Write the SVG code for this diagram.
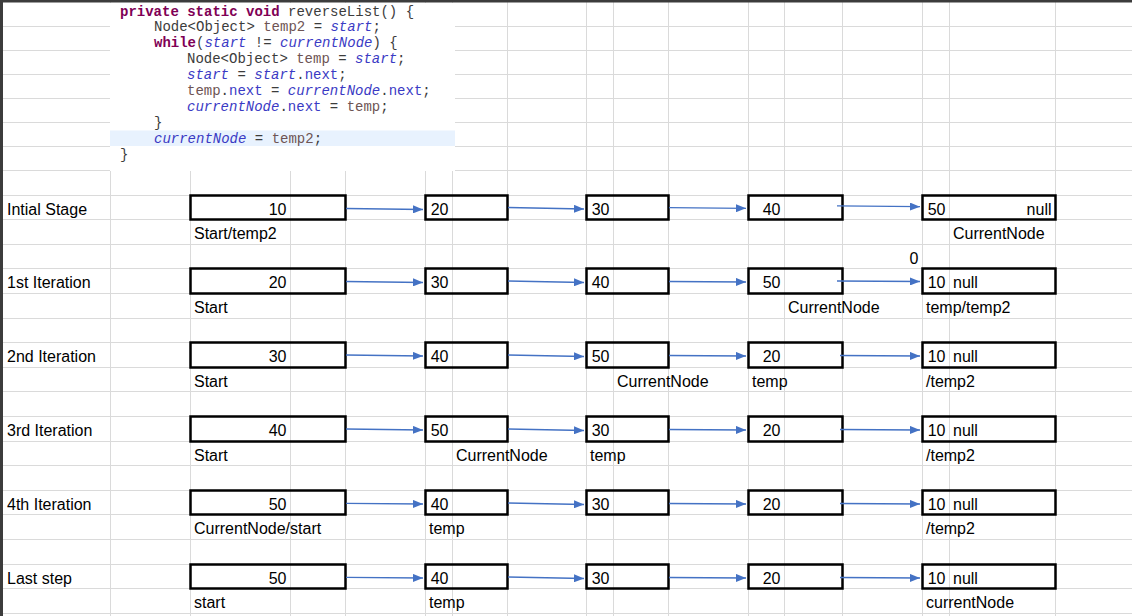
<svg xmlns="http://www.w3.org/2000/svg" width="1132" height="616" viewBox="0 0 1132 616">
<style>
.grid{stroke:#dadada;stroke-width:1;fill:none}
.code{font-family:"Liberation Mono","DejaVu Sans Mono",monospace;font-size:14px;fill:#3c3c3c;white-space:pre}
.kw{fill:#7f0055;font-weight:bold}
.fld{fill:#3a3ac4;font-style:italic}
.nf{fill:#3a3ac4}
.loc{fill:#6e5454}
.t{font-family:"Liberation Sans","Arial",sans-serif;font-size:16px;fill:#000}
.n{font-family:"Liberation Sans","Arial",sans-serif;font-size:16px;fill:#000;text-anchor:end}
.box{fill:none;stroke:#000;stroke-width:2.5}
.arr{stroke:#4472c4;stroke-width:1.3;fill:none;marker-end:url(#ah)}
</style>
<defs>
<marker id="ah" viewBox="0 0 10 8" markerWidth="10" markerHeight="8" refX="10" refY="4" orient="auto" markerUnits="userSpaceOnUse">
<path d="M0,0 L10,4 L0,8 z" fill="#4472c4"/>
</marker>
</defs>
<rect width="1132" height="616" fill="#fff"/>
<g id="grid">
<path class="grid" d="M110.5,2V616 M190.5,2V616 M290.5,2V616 M345.5,2V616 M425.5,2V616 M452.5,2V616 M507.5,2V616 M586.5,2V616 M613.5,2V616 M668.5,2V616 M748.5,2V616 M784.5,2V616 M842.5,2V616 M922.5,2V616 M949.5,2V616 M1055.5,2V616"/>
<path class="grid" d="M3,26.5H1132 M3,50.5H1132 M3,74.5H1132 M3,98.5H1132 M3,122.5H1132 M3,146.5H1132 M3,170.5H1132 M3,195.5H1132 M3,219.5H1132 M3,244.5H1132 M3,268.5H1132 M3,293.5H1132 M3,318.5H1132 M3,342.5H1132 M3,367.5H1132 M3,391.5H1132 M3,416.5H1132 M3,441.5H1132 M3,465.5H1132 M3,490.5H1132 M3,514.5H1132 M3,539.5H1132 M3,564.5H1132 M3,588.5H1132 M3,613.5H1132"/>
<rect x="0" y="0" width="1132" height="2.5" fill="#3c3c3c"/>
<rect x="0" y="0" width="3" height="616" fill="#3c3c3c"/>
</g>
<g id="code">
<rect x="110" y="3" width="345" height="168" fill="#fff"/>
<rect x="110" y="130.5" width="345" height="15.5" fill="#e8f2fe"/>
<text class="code" x="120" y="15.5"><tspan class="kw">private static void</tspan> reverseList() {</text>
<text class="code" x="154" y="31.4">Node&lt;Object&gt; <tspan class="loc">temp2</tspan> = <tspan class="fld">start</tspan>;</text>
<text class="code" x="154" y="47.3"><tspan class="kw">while</tspan>(<tspan class="fld">start</tspan> != <tspan class="fld">currentNode</tspan>) {</text>
<text class="code" x="187" y="63.2">Node&lt;Object&gt; <tspan class="loc">temp</tspan> = <tspan class="fld">start</tspan>;</text>
<text class="code" x="187" y="79.1"><tspan class="fld">start</tspan> = <tspan class="fld">start</tspan>.<tspan class="nf">next</tspan>;</text>
<text class="code" x="187" y="95"><tspan class="loc">temp</tspan>.<tspan class="nf">next</tspan> = <tspan class="fld">currentNode</tspan>.<tspan class="nf">next</tspan>;</text>
<text class="code" x="187" y="110.9"><tspan class="fld">currentNode</tspan>.<tspan class="nf">next</tspan> = <tspan class="loc">temp</tspan>;</text>
<text class="code" x="154" y="126.8">}</text>
<text class="code" x="154" y="142.7"><tspan class="fld">currentNode</tspan> = <tspan class="loc">temp2</tspan>;</text>
<text class="code" x="120" y="158.6">}</text>
</g>
<g id="row0">
<text class="t" x="7" y="214.5">Intial Stage</text>
<rect class="box" x="190.5" y="195.5" width="155" height="24"/>
<rect class="box" x="425.5" y="195.5" width="82" height="24"/>
<rect class="box" x="586.5" y="195.5" width="82" height="24"/>
<rect class="box" x="748.5" y="195.5" width="94" height="24"/>
<rect class="box" x="922.5" y="195.5" width="133" height="24"/>
<text class="n" x="286.5" y="214.5">10</text>
<text class="n" x="448.5" y="214.5">20</text>
<text class="n" x="609.5" y="214.5">30</text>
<text class="n" x="780.5" y="214.5">40</text>
<text class="n" x="945.5" y="214.5">50</text>
<text class="n" x="1051.5" y="214.5">null</text>
<text class="t" x="194" y="238.5">Start/temp2</text>
<text class="t" x="953" y="238.5">CurrentNode</text>
<text class="n" x="918.5" y="263.5">0</text>
</g>
<g id="row1">
<text class="t" x="7" y="287.5">1st Iteration</text>
<rect class="box" x="190.5" y="268.5" width="155" height="25"/>
<rect class="box" x="425.5" y="268.5" width="82" height="25"/>
<rect class="box" x="586.5" y="268.5" width="82" height="25"/>
<rect class="box" x="748.5" y="268.5" width="94" height="25"/>
<rect class="box" x="922.5" y="268.5" width="133" height="25"/>
<text class="n" x="286.5" y="287.5">20</text>
<text class="n" x="448.5" y="287.5">30</text>
<text class="n" x="609.5" y="287.5">40</text>
<text class="n" x="780.5" y="287.5">50</text>
<text class="n" x="945.5" y="287.5">10</text>
<text class="t" x="953" y="287.5">null</text>
<text class="t" x="194" y="312.5">Start</text>
<text class="t" x="788" y="312.5">CurrentNode</text>
<text class="t" x="926" y="312.5">temp/temp2</text>
</g>
<g id="row2">
<text class="t" x="7" y="361.5">2nd Iteration</text>
<rect class="box" x="190.5" y="342.5" width="155" height="25"/>
<rect class="box" x="425.5" y="342.5" width="82" height="25"/>
<rect class="box" x="586.5" y="342.5" width="82" height="25"/>
<rect class="box" x="748.5" y="342.5" width="94" height="25"/>
<rect class="box" x="922.5" y="342.5" width="133" height="25"/>
<text class="n" x="286.5" y="361.5">30</text>
<text class="n" x="448.5" y="361.5">40</text>
<text class="n" x="609.5" y="361.5">50</text>
<text class="n" x="780.5" y="361.5">20</text>
<text class="n" x="945.5" y="361.5">10</text>
<text class="t" x="953" y="361.5">null</text>
<text class="t" x="194" y="386.5">Start</text>
<text class="t" x="617" y="386.5">CurrentNode</text>
<text class="t" x="752" y="386.5">temp</text>
<text class="t" x="926" y="386.5">/temp2</text>
</g>
<g id="row3">
<text class="t" x="7" y="435.5">3rd Iteration</text>
<rect class="box" x="190.5" y="416.5" width="155" height="25"/>
<rect class="box" x="425.5" y="416.5" width="82" height="25"/>
<rect class="box" x="586.5" y="416.5" width="82" height="25"/>
<rect class="box" x="748.5" y="416.5" width="94" height="25"/>
<rect class="box" x="922.5" y="416.5" width="133" height="25"/>
<text class="n" x="286.5" y="435.5">40</text>
<text class="n" x="448.5" y="435.5">50</text>
<text class="n" x="609.5" y="435.5">30</text>
<text class="n" x="780.5" y="435.5">20</text>
<text class="n" x="945.5" y="435.5">10</text>
<text class="t" x="953" y="435.5">null</text>
<text class="t" x="194" y="460.5">Start</text>
<text class="t" x="456" y="460.5">CurrentNode</text>
<text class="t" x="590" y="460.5">temp</text>
<text class="t" x="926" y="460.5">/temp2</text>
</g>
<g id="row4">
<text class="t" x="7" y="509.5">4th Iteration</text>
<rect class="box" x="190.5" y="490.5" width="155" height="24"/>
<rect class="box" x="425.5" y="490.5" width="82" height="24"/>
<rect class="box" x="586.5" y="490.5" width="82" height="24"/>
<rect class="box" x="748.5" y="490.5" width="94" height="24"/>
<rect class="box" x="922.5" y="490.5" width="133" height="24"/>
<text class="n" x="286.5" y="509.5">50</text>
<text class="n" x="448.5" y="509.5">40</text>
<text class="n" x="609.5" y="509.5">30</text>
<text class="n" x="780.5" y="509.5">20</text>
<text class="n" x="945.5" y="509.5">10</text>
<text class="t" x="953" y="509.5">null</text>
<text class="t" x="194" y="533.5">CurrentNode/start</text>
<text class="t" x="429" y="533.5">temp</text>
<text class="t" x="926" y="533.5">/temp2</text>
</g>
<g id="row5">
<text class="t" x="7" y="583.5">Last step</text>
<rect class="box" x="190.5" y="564.5" width="155" height="24"/>
<rect class="box" x="425.5" y="564.5" width="82" height="24"/>
<rect class="box" x="586.5" y="564.5" width="82" height="24"/>
<rect class="box" x="748.5" y="564.5" width="94" height="24"/>
<rect class="box" x="922.5" y="564.5" width="133" height="24"/>
<text class="n" x="286.5" y="583.5">50</text>
<text class="n" x="448.5" y="583.5">40</text>
<text class="n" x="609.5" y="583.5">30</text>
<text class="n" x="780.5" y="583.5">20</text>
<text class="n" x="945.5" y="583.5">10</text>
<text class="t" x="953" y="583.5">null</text>
<text class="t" x="194" y="607.5">start</text>
<text class="t" x="429" y="607.5">temp</text>
<text class="t" x="926" y="607.5">currentNode</text>
</g>
<g id="connectors">
<path class="arr" d="M346,208.5 L423,209.5"/>
<path class="arr" d="M508,207.5 L584,209"/>
<path class="arr" d="M669,207.7 L746,208.3"/>
<path class="arr" d="M837,205.8 L920,206.7"/>
<path class="arr" d="M346,281.5 L423,282.5"/>
<path class="arr" d="M508,281 L584,282.5"/>
<path class="arr" d="M669,281.5 L746,282"/>
<path class="arr" d="M837,281 L920,281.5"/>
<path class="arr" d="M346,355 L423,356"/>
<path class="arr" d="M508,355 L584,356.5"/>
<path class="arr" d="M669,355.5 L746,356"/>
<path class="arr" d="M840,355.5 L920,356"/>
<path class="arr" d="M346,429 L423,430"/>
<path class="arr" d="M508,429 L584,430.5"/>
<path class="arr" d="M669,429.5 L746,430"/>
<path class="arr" d="M840,429.5 L920,430"/>
<path class="arr" d="M346,503.3 L423,504"/>
<path class="arr" d="M508,503 L584,504.5"/>
<path class="arr" d="M669,503.5 L746,504"/>
<path class="arr" d="M840,503.5 L920,504"/>
<path class="arr" d="M346,577.3 L423,578"/>
<path class="arr" d="M508,577 L584,578.5"/>
<path class="arr" d="M669,577.5 L746,578"/>
<path class="arr" d="M840,577.5 L920,578"/>
</g>
</svg>
